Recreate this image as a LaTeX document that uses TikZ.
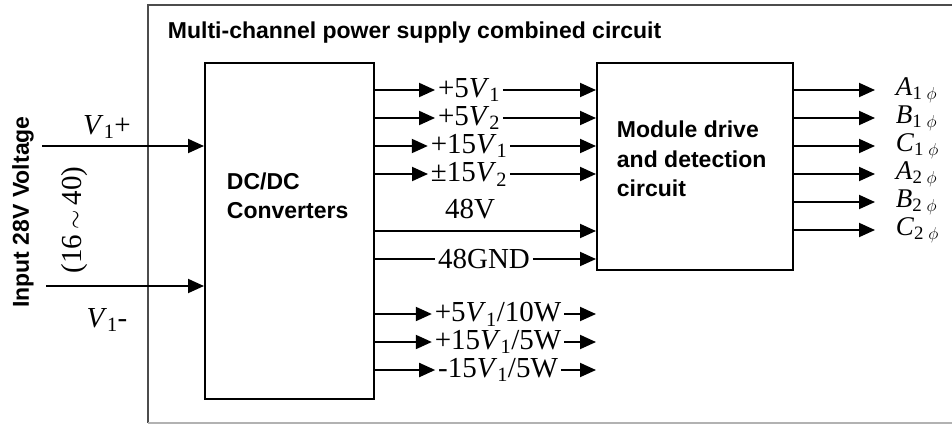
\documentclass[tikz,border=0pt]{standalone}
\usepackage{fontspec}
\setmainfont{Liberation Serif}
\setsansfont{Liberation Sans}
\usetikzlibrary{arrows.meta,positioning}

\begin{document}
\begin{tikzpicture}[
    x=1pt, y=-1pt,
    line width=1.9pt,
    >={Triangle[length=16pt,width=14pt]},
    box/.style={rectangle, draw, anchor=north west, inner sep=0pt},
    head/.style={font=\fontsize{23}{29.5}\selectfont\sffamily\bfseries, align=left, inner sep=0pt},
    volt/.style={font=\fontsize{29}{32}\selectfont, inner sep=2pt},
    phase/.style={font=\fontsize{27}{30}\selectfont, inner sep=0pt, anchor=west}
]
    \useasboundingbox (0,0) rectangle (952,426);
    \clip (0,0) rectangle (952,426);

    % outer frame
    \draw[black!70] (970,5) -- (148,5) -- (148,423);
    \draw[black!30] (148,423) -- (970,423);
    \node[head, anchor=west] (title) at (167,33) {Multi-channel power supply combined circuit};

    % blocks
    \node[box, minimum width=169pt, minimum height=336pt] (dc) at (204,62) {};
    \node[head, anchor=west] (dctxt) at (226,196) {DC/DC\\Converters};
    \node[box, minimum width=196pt, minimum height=207pt] (md) at (596,62) {};
    \node[head, anchor=west] (mdtxt) at (616,159) {Module drive\\and detection\\circuit};

    % input side
    \node[head, rotate=90] (inp) at (23,212) {Input 28V Voltage};
    \node[volt, rotate=90] (rng) at (75,220) {(16\,$\sim$\,40)};
    \node[volt] (vp) at (107,127) {\textit{V}\textsubscript{1}+};
    \node[volt] (vm) at (107,320) {\textit{V}\textsubscript{1}-};
    \coordinate (pin) at (42,146);
    \coordinate (nin) at (46,286);
    \draw[->] (pin) -- (dc.west |- pin);
    \draw[->] (nin) -- (dc.west |- nin);

    % supply rails
    \node[volt] (r1) at (469,90) {+5\textit{V}\textsubscript{1}};
    \node[volt] (r2) at (469,118) {+5\textit{V}\textsubscript{2}};
    \node[volt] (r3) at (469,146) {+15\textit{V}\textsubscript{1}};
    \node[volt] (r4) at (469,174) {±15\textit{V}\textsubscript{2}};
    \foreach \r in {r1,r2,r3,r4} {
        \draw[->] (dc.east |- \r) -- (\r);
        \draw[->] (\r) -- (md.west |- \r);
    }
    \node[volt] (v48) at (470,209) {48V};
    \coordinate (l48) at (0,231);
    \draw[->] (dc.east |- l48) -- (md.west |- l48);
    \node[volt] (gnd) at (484,259) {48GND};
    \draw (dc.east |- gnd) -- (gnd);
    \draw[->] (gnd) -- (md.west |- gnd);

    % auxiliary outputs
    \node[volt] (w1) at (498,314) {+5\textit{V}\textsubscript{1}/10W};
    \node[volt] (w2) at (498,342) {+15\textit{V}\textsubscript{1}/5W};
    \node[volt] (w3) at (498,370) {-15\textit{V}\textsubscript{1}/5W};
    \foreach \w in {w1,w2,w3} {
        \draw[->] (dc.east |- \w) -- (\w);
        \draw[->] (\w) -- (md.west |- \w);
    }

    % phase outputs
    \node[phase] (a1) at (895,90) {\textit{A}\textsubscript{1 $\phi$}};
    \node[phase] (b1) at (895,118) {\textit{B}\textsubscript{1 $\phi$}};
    \node[phase] (c1) at (895,146) {\textit{C}\textsubscript{1 $\phi$}};
    \node[phase] (a2) at (895,174) {\textit{A}\textsubscript{2 $\phi$}};
    \node[phase] (b2) at (895,202) {\textit{B}\textsubscript{2 $\phi$}};
    \node[phase] (c2) at (895,230) {\textit{C}\textsubscript{2 $\phi$}};
    \foreach \p in {a1,b1,c1,a2,b2,c2}
        \draw[->, shorten >=20pt] (md.east |- \p) -- (\p.west);
\end{tikzpicture}
\end{document}
